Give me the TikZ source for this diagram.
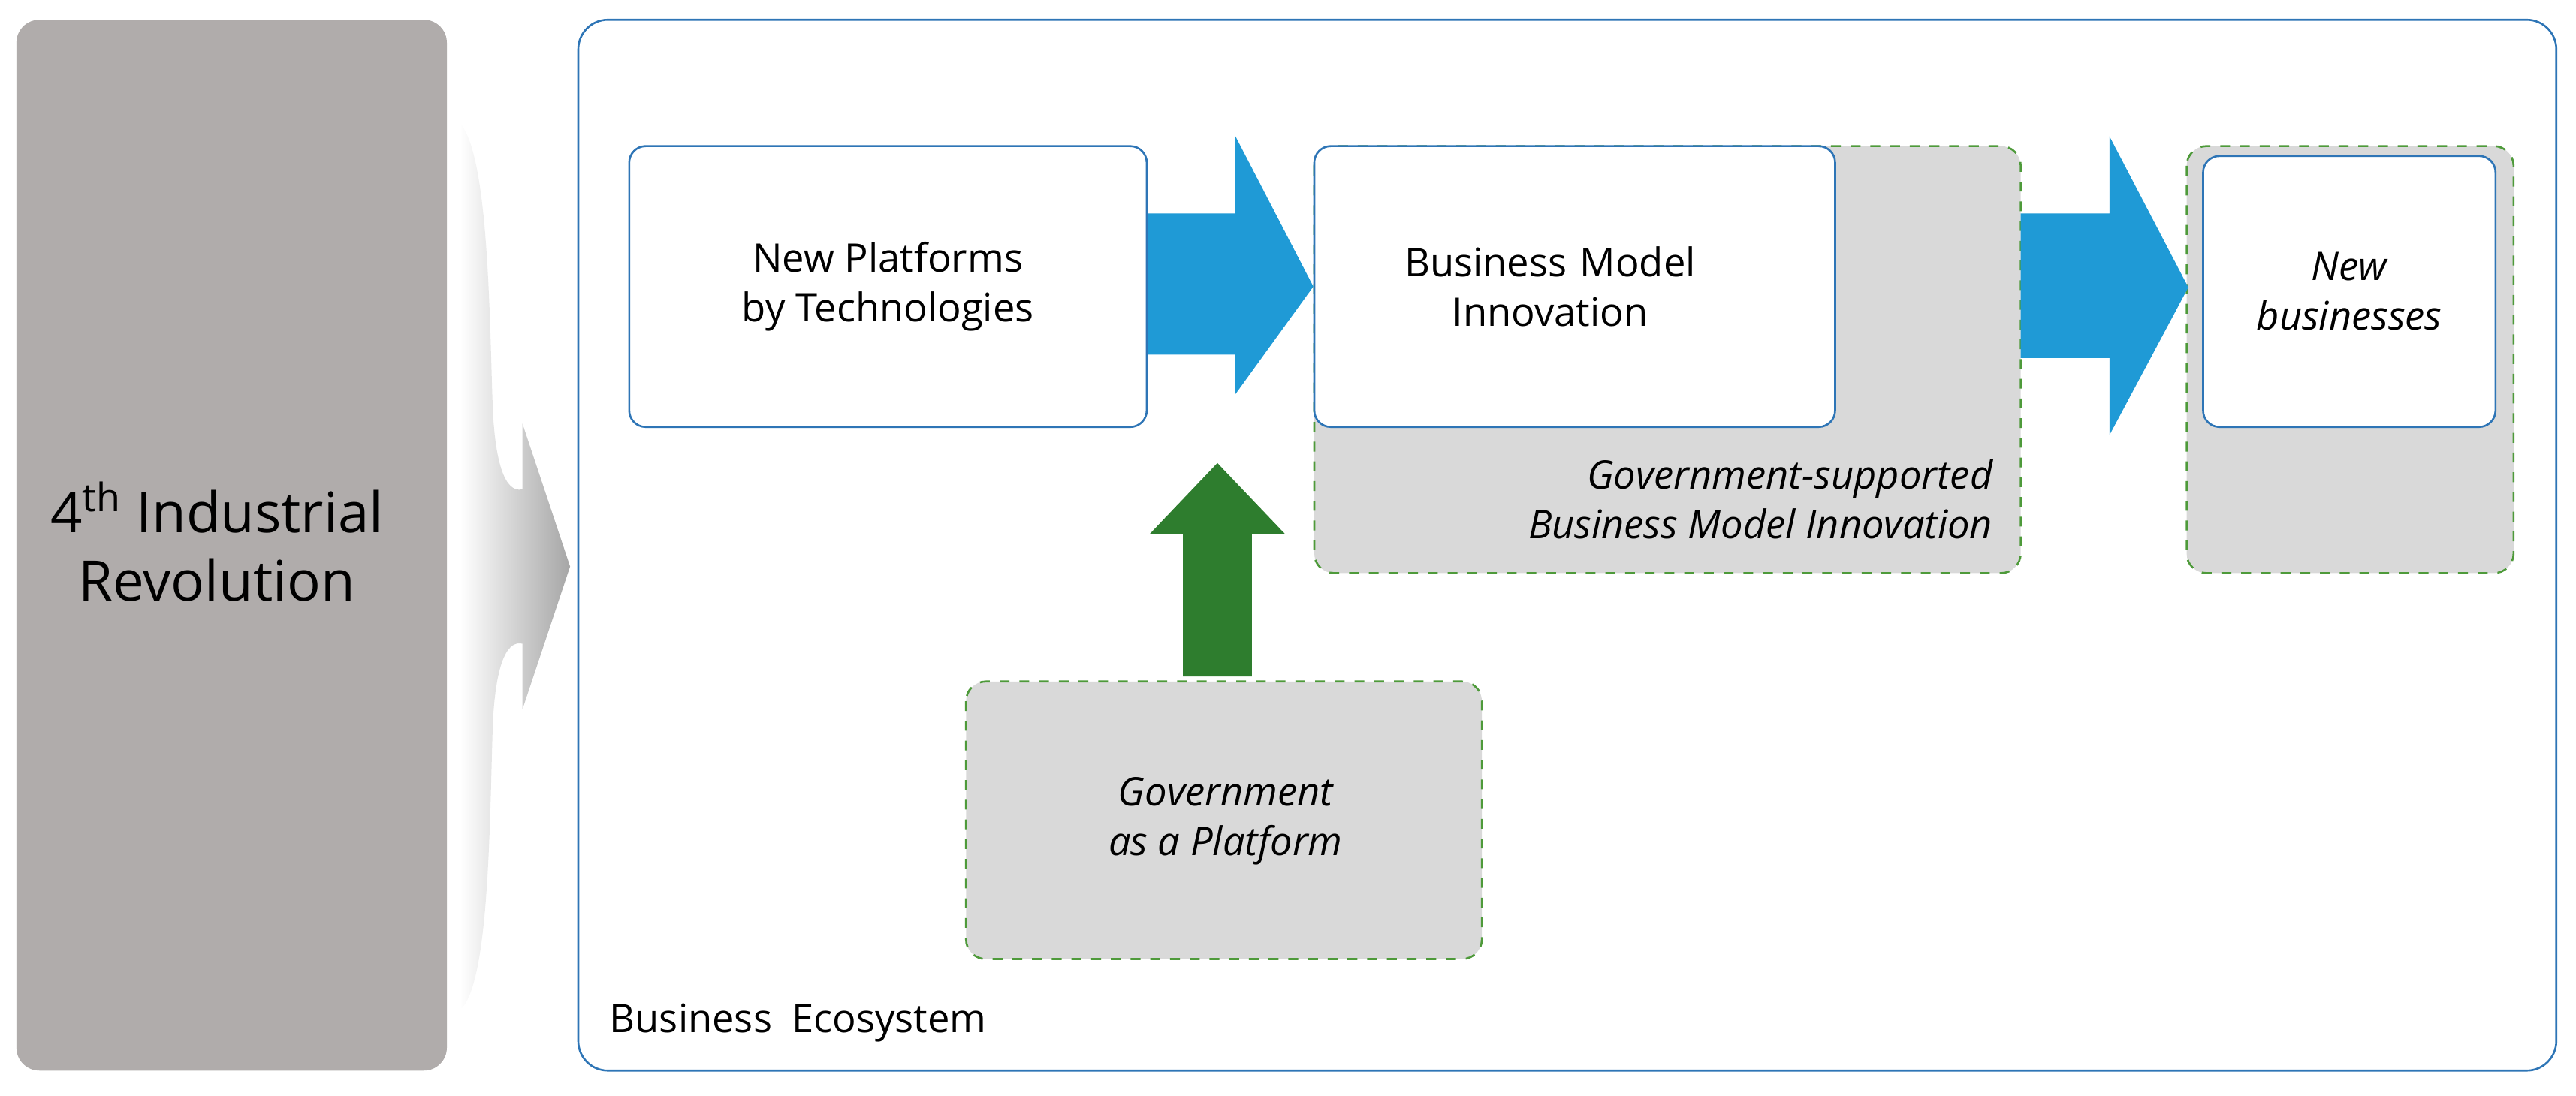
\documentclass[tikz,border=0pt]{standalone}
\usepackage{fontspec}
\setmainfont{Open Sans}
\usetikzlibrary{shapes.arrows}
\definecolor{bluebrd}{HTML}{2E75B6}
\definecolor{bluearr}{HTML}{1F9AD6}
\definecolor{greenarr}{HTML}{2E7D2E}
\definecolor{dashgreen}{HTML}{4E9A3A}
\definecolor{lgray}{HTML}{D9D9D9}
\definecolor{dgray}{HTML}{B0ACAB}
\begin{document}
\begin{tikzpicture}[x=0.5pt,y=-0.5pt,
  wbox/.style={draw=bluebrd,fill=white,rounded corners=5pt,line width=0.6pt},
  gbox/.style={draw=dashgreen,fill=lgray,dashed,rounded corners=6pt,line width=0.6pt},
  txt/.style={font=\fontsize{12}{15}\selectfont,align=center}]
\useasboundingbox (0,0) rectangle (1568,667);
% left gray box
\fill[dgray,rounded corners=7pt] (10,12) rectangle (272,652);
\node[font=\fontsize{17}{21}\selectfont,align=center] (ir) at (132,330) {4\textsuperscript{th} Industrial\\Revolution};
% curly arrow
\shade[left color=white,right color=gray!70]
 (280,75) .. controls (298,95) and (298,200) .. (300,250) .. controls (302,290) and (310,300) .. (318,298)
 -- (318,258) -- (347,345) -- (318,432) -- (318,392) .. controls (310,390) and (302,400) .. (300,440)
 .. controls (298,500) and (298,600) .. (280,615) -- cycle;
% ecosystem
\draw[bluebrd,line width=0.6pt,rounded corners=9pt] (352,12) rectangle (1556,652);
\node[txt,anchor=west] (eco) at (364,623) {Business\enspace Ecosystem};
% gray dashed boxes
\draw[gbox] (800,89) rectangle (1230,349);
\node[txt,font=\fontsize{12}{15}\selectfont\itshape,align=right,anchor=east] (gsb) at (1220,304) {Government-supported\\Business Model Innovation};
\draw[gbox] (1331,89) rectangle (1530,349);
\draw[gbox] (588,415) rectangle (902,584);
\node[txt,font=\fontsize{12}{15}\selectfont\itshape] (gov) at (746,500) {Government\\as a Platform};
% white boxes
\node[wbox,minimum width=157.5pt,minimum height=85.5pt,txt] (b1) at (540.5,174.5) {New Platforms\\by Technologies};
\node[wbox,minimum width=158.5pt,minimum height=85.5pt,txt,text width=150pt] (b2) at (958.5,174.5) {\hspace*{-15pt}Business Model\\\hspace*{-15pt}Innovation};
\node[wbox,minimum width=89pt,minimum height=82.5pt,txt,font=\fontsize{12}{15}\selectfont\itshape] (b3) at (1430,177.5) {New\\businesses};
% blue arrows
\fill[bluearr] (b1.east |- 0,130) -- (752,130) -- (752,83) -- (b2.west) -- (752,240) -- (752,216) -- (b1.east |- 0,216) -- cycle;
\fill[bluearr] (1230,130) -- (1284,130) -- (1284,83) -- (1332,175) -- (1284,265) -- (1284,218) -- (1230,218) -- cycle;
% green arrow
\fill[greenarr] (720,412) -- (720,325) -- (700,325) -- (741,282) -- (782,325) -- (762,325) -- (762,412) -- cycle;
\end{tikzpicture}
\end{document}
